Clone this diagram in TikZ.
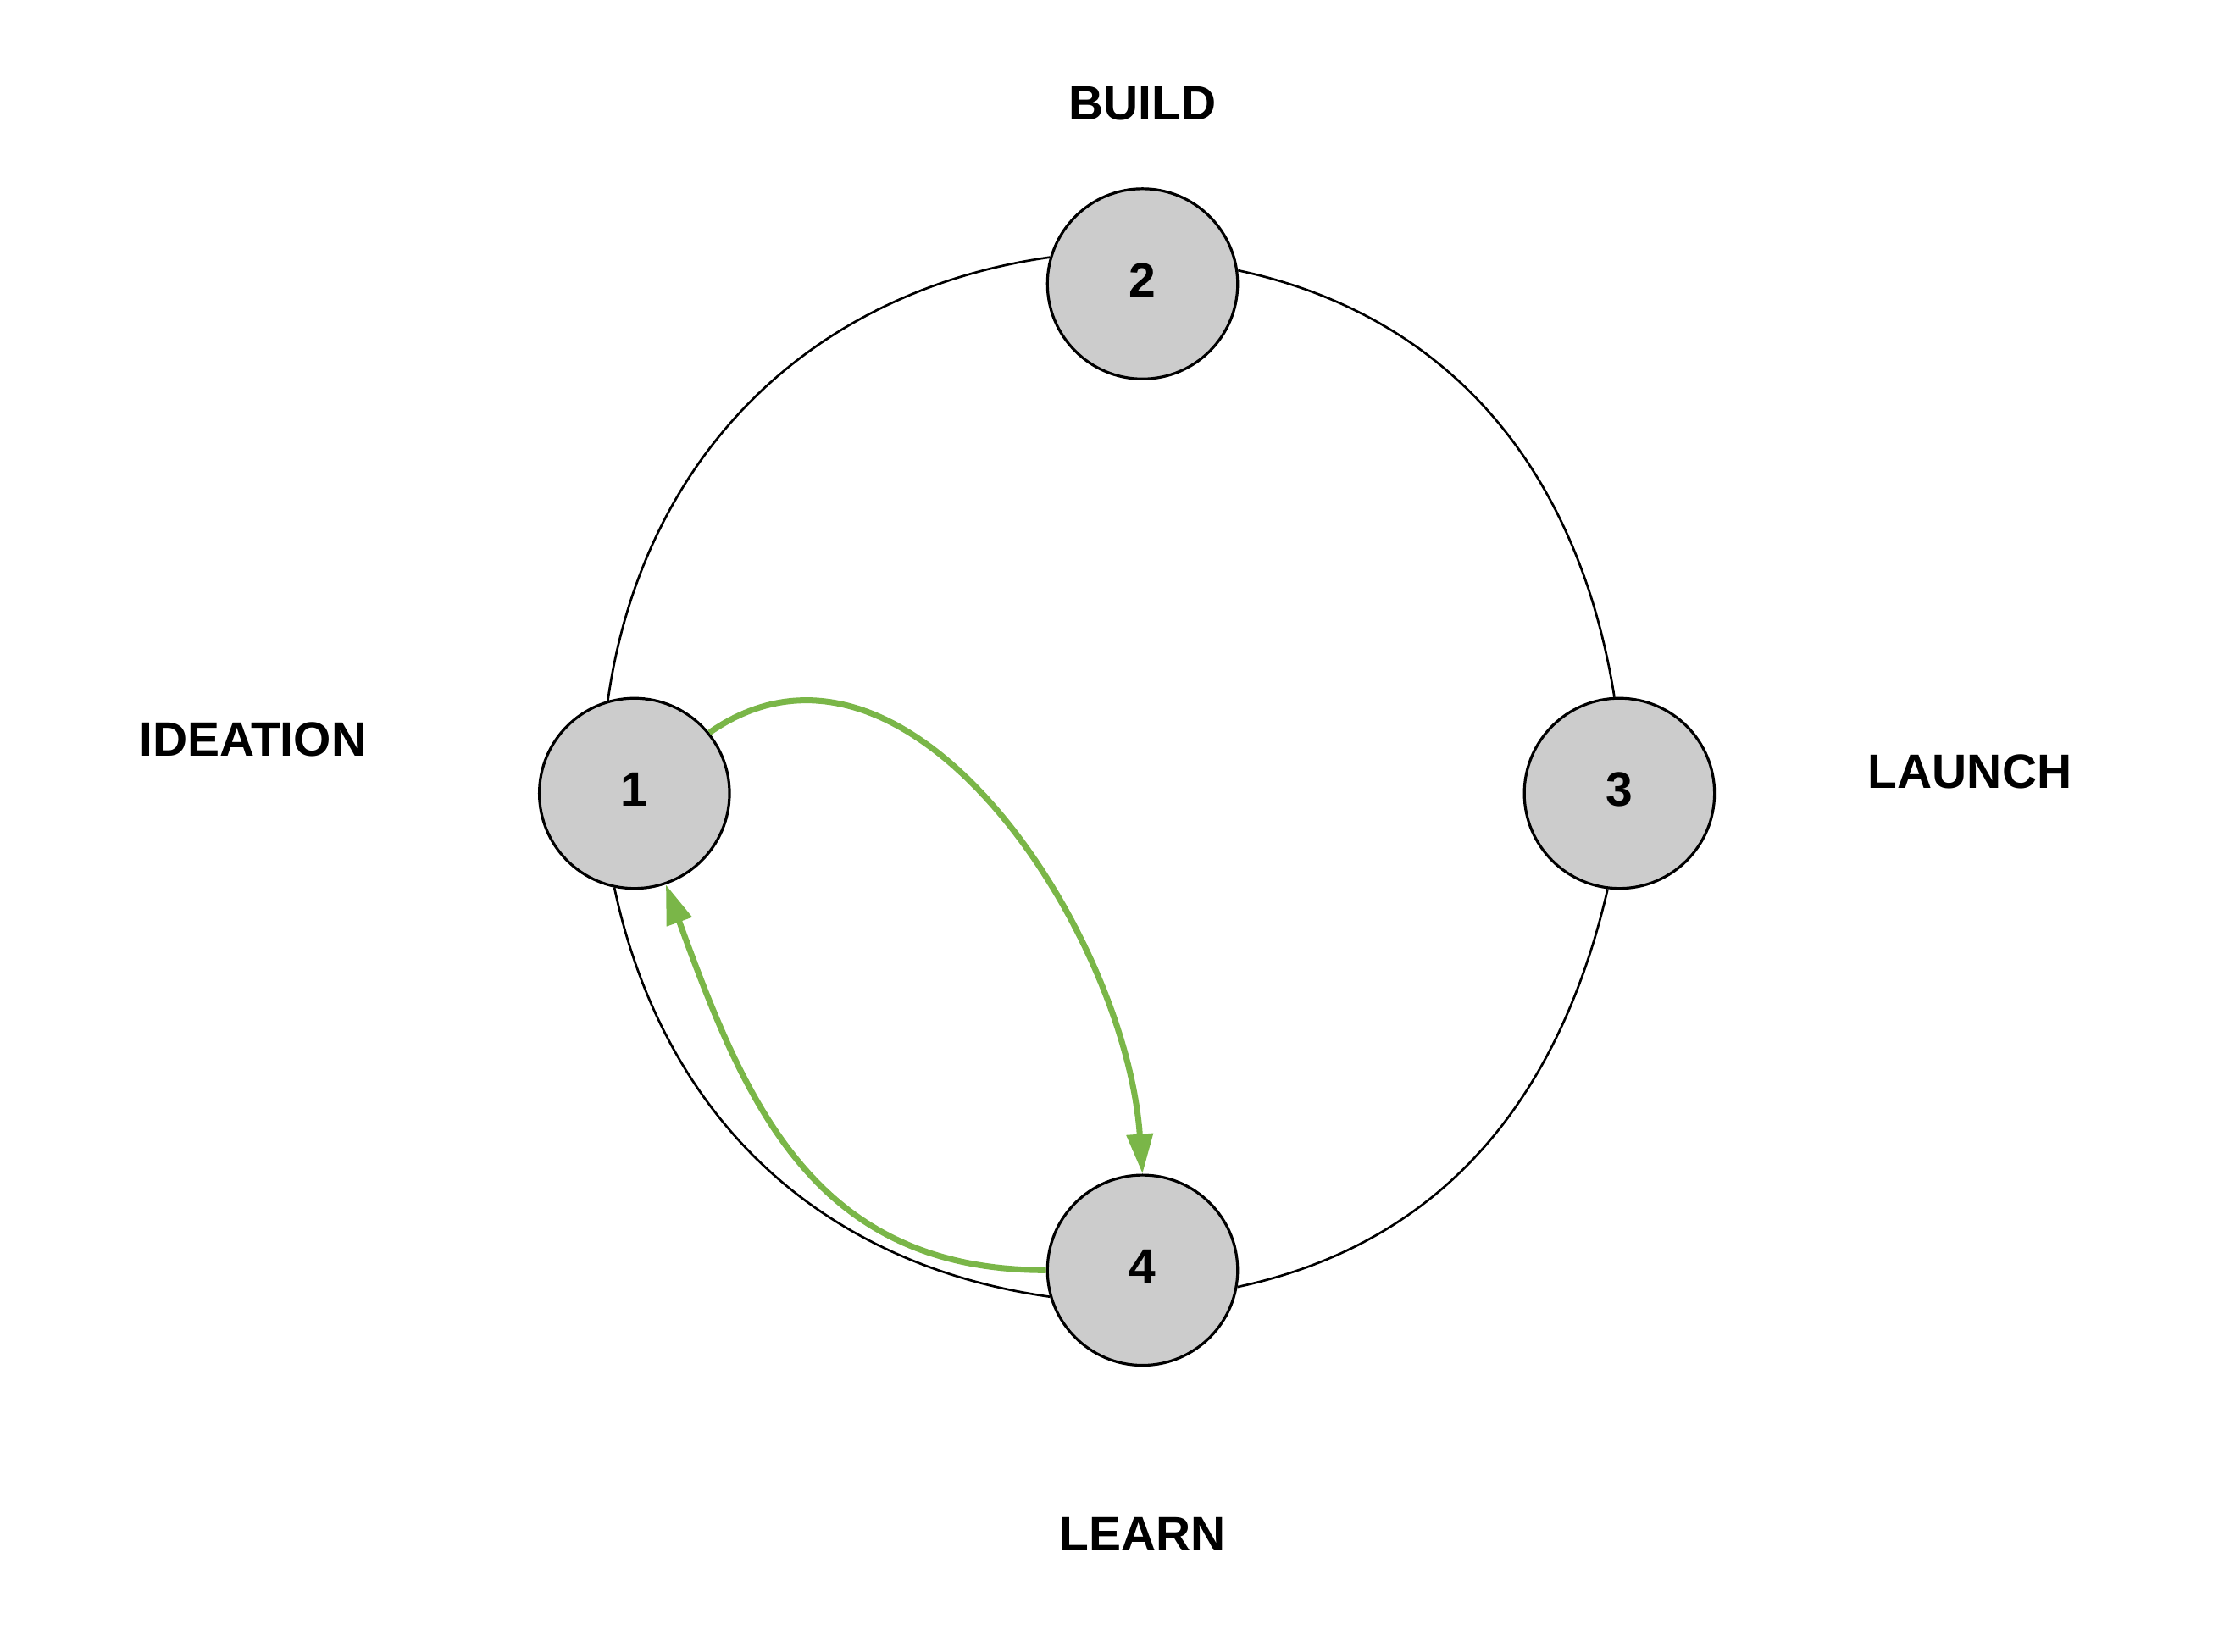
\documentclass[tikz,border=0pt]{standalone}
\usepackage{fontspec}
\setmainfont{Liberation Sans}
\usetikzlibrary{arrows.meta}
\definecolor{loopgreen}{HTML}{7AB648}
\definecolor{stagegray}{HTML}{CCCCCC}
\tikzset{
  stage/.style={circle, draw=black, line width=0.95pt, fill=stagegray, minimum size=67pt, inner sep=0pt, text height=12.2pt, text depth=3pt, font=\fontsize{17}{20}\selectfont\bfseries},
  phase/.style={inner sep=0pt, font=\fontsize{17}{20}\selectfont\bfseries},
  ring/.style={draw=black, line width=0.8pt},
  loopback/.style={draw=loopgreen, line width=2.1pt, -{Triangle[length=14pt, width=9pt]}}
}
\begin{document}
\begin{tikzpicture}[x=0.5pt, y=0.5pt, yscale=1, xscale=1]
\useasboundingbox (0, 0) rectangle (1567, -1164);
%Stages
\node [stage] (s1) at (447, -559) {1};
\node [stage] (s2) at (805, -200) {2};
\node [stage] (s3) at (1141, -559) {3};
\node [stage] (s4) at (805, -895) {4};
%Ring
\draw [ring] (s1.106) to[out=82, in=188] (s2.164);
\draw [ring] (s2.8) to[out=-12, in=99] (s3.93);
\draw [ring] (s3.263) to[out=-103, in=12] (s4.-10);
\draw [ring] (s4.196) to[out=172, in=-78] (s1.258);
%Loop
\draw [loopback] (s1.39) to[out=35, in=94] (s4.north);
\draw [loopback] (s4.west) to[out=180, in=-70, looseness=1.1] (s1.-71);
%Text
\node [phase] (tbuild) at (805, -73) {BUILD};
\node [phase] (tideation) at (178, -521) {IDEATION};
\node [phase] (tlaunch) at (1388, -544) {LAUNCH};
\node [phase] (tlearn) at (805, -1081) {LEARN};
\end{tikzpicture}
\end{document}
